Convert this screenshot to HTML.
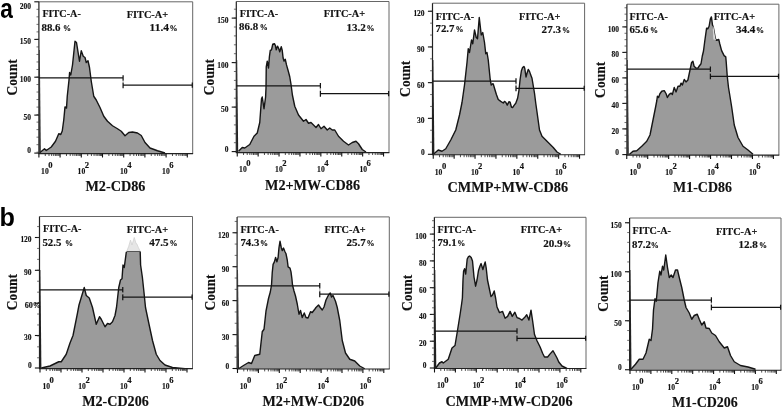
<!DOCTYPE html>
<html><head><meta charset="utf-8"><title>Flow cytometry</title>
<style>
html,body{margin:0;padding:0;background:#fff;}
body{width:784px;height:411px;overflow:hidden;}
svg{display:block;}
svg text{font-family:"Liberation Serif", "DejaVu Serif", serif;font-weight:bold;fill:#111;stroke:#111;stroke-width:0.15px;}
svg text.lab{font-family:"Liberation Sans","DejaVu Sans",sans-serif;font-weight:bold;fill:#000;stroke:none;}
</style></head><body>
<svg width="784" height="411" viewBox="0 0 784 411">
<rect width="784" height="411" fill="#fff"/>
<g id="panel1">
<polygon points="40,153.6 40,152.5 44.5,148.75 46.25,150.5 51.25,147 55.5,141.25 58.75,133.75 60.75,134.5 62.25,131 63.75,120 65,106.9 66.5,108.1 67.25,96.25 69,80 69.6,72.5 70.75,75 72.5,65 75,41.25 76.5,42.5 79.5,61.25 81.25,50.75 83.25,56.25 85,57.5 86.25,62.5 88,60.75 89.5,67.5 91.25,81.25 93.75,96.25 96.25,100 100,107.5 103.75,116.25 107.5,121.25 112.5,125.75 117.5,128.75 121.25,131.25 125,135.75 128.75,132.5 132.5,132 137.5,133 141.25,135.5 145,142.5 150,148 157.5,150.75 165,153 165,153.6" fill="#9b9b9b" stroke="none"/>
<polyline points="40,152.5 44.5,148.75 46.25,150.5 51.25,147 55.5,141.25 58.75,133.75 60.75,134.5 62.25,131 63.75,120 65,106.9 66.5,108.1 67.25,96.25 69,80 69.6,72.5 70.75,75 72.5,65 75,41.25 76.5,42.5 79.5,61.25 81.25,50.75 83.25,56.25 85,57.5 86.25,62.5 88,60.75 89.5,67.5 91.25,81.25 93.75,96.25 96.25,100 100,107.5 103.75,116.25 107.5,121.25 112.5,125.75 117.5,128.75 121.25,131.25 125,135.75 128.75,132.5 132.5,132 137.5,133 141.25,135.5 145,142.5 150,148 157.5,150.75 165,153" fill="none" stroke="#151515" stroke-width="1.4" stroke-linejoin="round"/>
<polygon points="39.2,50 39.8,50 40.8,153.6 39.2,153.6" fill="#222"/>
<path d="M38.9,1.8 H192.7 V153.6" fill="none" stroke="#666" stroke-width="1"/>
<path d="M38.9,1.8 V153.6" fill="none" stroke="#222" stroke-width="1.2"/>
<path d="M38.4,153.6 H193.1" fill="none" stroke="#222" stroke-width="1.1"/>
<line x1="34.3" y1="1.8" x2="38.9" y2="1.8" stroke="#111" stroke-width="1.1"/>
<text x="31" y="9" font-size="8.4" text-anchor="end" textLength="11.2" lengthAdjust="spacingAndGlyphs" stroke="#111" stroke-width="0.4">200</text>
<line x1="34.3" y1="39.4" x2="38.9" y2="39.4" stroke="#111" stroke-width="1.1"/>
<text x="31" y="44.3" font-size="8.4" text-anchor="end" textLength="11.2" lengthAdjust="spacingAndGlyphs" stroke="#111" stroke-width="0.4">150</text>
<line x1="34.3" y1="77.2" x2="38.9" y2="77.2" stroke="#111" stroke-width="1.1"/>
<text x="31" y="82.1" font-size="8.4" text-anchor="end" textLength="11.2" lengthAdjust="spacingAndGlyphs" stroke="#111" stroke-width="0.4">100</text>
<line x1="34.3" y1="115.1" x2="38.9" y2="115.1" stroke="#111" stroke-width="1.1"/>
<text x="31" y="120" font-size="8.4" text-anchor="end" textLength="7.5" lengthAdjust="spacingAndGlyphs" stroke="#111" stroke-width="0.4">50</text>
<line x1="34.3" y1="153.1" x2="38.9" y2="153.1" stroke="#111" stroke-width="1.1"/>
<text x="31" y="153.3" font-size="8.4" text-anchor="end" textLength="3.7" lengthAdjust="spacingAndGlyphs" stroke="#111" stroke-width="0.4">0</text>
<path d="M36.5,9.32 h2.4 M36.5,16.84 h2.4 M36.5,24.36 h2.4 M36.5,31.88 h2.4 M36.5,39.4 h2.4 M36.5,46.92 h2.4 M36.5,54.44 h2.4 M36.5,61.96 h2.4 M36.5,69.48 h2.4 M36.5,77 h2.4 M36.5,84.52 h2.4 M36.5,92.04 h2.4 M36.5,99.56 h2.4 M36.5,107.08 h2.4 M36.5,114.6 h2.4 M36.5,122.12 h2.4 M36.5,129.64 h2.4 M36.5,137.16 h2.4 M36.5,144.68 h2.4 M36.5,152.2 h2.4" stroke="#333" stroke-width="0.7" fill="none"/>
<path d="M38.9,153.6 v3.9 M60.1,153.6 v3.9 M81.3,153.6 v3.9 M102.5,153.6 v3.9 M123.7,153.6 v3.9 M144.9,153.6 v3.9 M166.1,153.6 v3.9 M187.3,153.6 v3.9" stroke="#111" stroke-width="1.1" fill="none"/>
<path d="M45.28,153.6 v2.4 M49.01,153.6 v2.4 M51.66,153.6 v2.4 M53.72,153.6 v2.4 M55.4,153.6 v2.4 M56.82,153.6 v2.4 M58.05,153.6 v2.4 M59.13,153.6 v2.4 M66.48,153.6 v2.4 M70.21,153.6 v2.4 M72.86,153.6 v2.4 M74.92,153.6 v2.4 M76.6,153.6 v2.4 M78.02,153.6 v2.4 M79.25,153.6 v2.4 M80.33,153.6 v2.4 M87.68,153.6 v2.4 M91.41,153.6 v2.4 M94.06,153.6 v2.4 M96.12,153.6 v2.4 M97.8,153.6 v2.4 M99.22,153.6 v2.4 M100.45,153.6 v2.4 M101.53,153.6 v2.4 M108.88,153.6 v2.4 M112.61,153.6 v2.4 M115.26,153.6 v2.4 M117.32,153.6 v2.4 M119,153.6 v2.4 M120.42,153.6 v2.4 M121.65,153.6 v2.4 M122.73,153.6 v2.4 M130.08,153.6 v2.4 M133.81,153.6 v2.4 M136.46,153.6 v2.4 M138.52,153.6 v2.4 M140.2,153.6 v2.4 M141.62,153.6 v2.4 M142.85,153.6 v2.4 M143.93,153.6 v2.4 M151.28,153.6 v2.4 M155.01,153.6 v2.4 M157.66,153.6 v2.4 M159.72,153.6 v2.4 M161.4,153.6 v2.4 M162.82,153.6 v2.4 M164.05,153.6 v2.4 M165.13,153.6 v2.4 M172.48,153.6 v2.4 M176.21,153.6 v2.4 M178.86,153.6 v2.4 M180.92,153.6 v2.4 M182.6,153.6 v2.4 M184.02,153.6 v2.4 M185.25,153.6 v2.4 M186.33,153.6 v2.4" stroke="#222" stroke-width="0.8" fill="none"/>
<text x="41.1" y="173.6" font-size="9" textLength="7.6" lengthAdjust="spacingAndGlyphs" stroke="#111" stroke-width="0.4">10</text>
<text x="48.3" y="168.1" font-size="8.6" textLength="4.3" lengthAdjust="spacingAndGlyphs" stroke="#111" stroke-width="0.4">0</text>
<text x="77.6" y="173.6" font-size="9" textLength="7.6" lengthAdjust="spacingAndGlyphs" stroke="#111" stroke-width="0.4">10</text>
<text x="84.8" y="168.1" font-size="8.6" textLength="4.3" lengthAdjust="spacingAndGlyphs" stroke="#111" stroke-width="0.4">2</text>
<text x="120" y="173.6" font-size="9" textLength="7.6" lengthAdjust="spacingAndGlyphs" stroke="#111" stroke-width="0.4">10</text>
<text x="127.2" y="168.1" font-size="8.6" textLength="4.3" lengthAdjust="spacingAndGlyphs" stroke="#111" stroke-width="0.4">4</text>
<text x="162.1" y="173.6" font-size="9" textLength="7.6" lengthAdjust="spacingAndGlyphs" stroke="#111" stroke-width="0.4">10</text>
<text x="169.3" y="168.1" font-size="8.6" textLength="4.3" lengthAdjust="spacingAndGlyphs" stroke="#111" stroke-width="0.4">6</text>
<text x="85.4" y="191.3" font-size="14.2" text-anchor="start" textLength="60" lengthAdjust="spacingAndGlyphs">M2-CD86</text>
<path d="M38.9,77.9 H123.1 M123.1,75.2 V80.7 M123.1,82.4 V88.3 M123.1,85.2 H192.7 M192.3,82.6 v5.2" fill="none" stroke="#141414" stroke-width="1.25"/>
<path d="M123.1,80.7 V82.4" fill="none" stroke="#999" stroke-width="0.8"/>
<text x="42.4" y="17.2" font-size="10" text-anchor="start" textLength="38.4" lengthAdjust="spacingAndGlyphs">FITC-A-</text>
<text x="41.5" y="30.8" font-size="10" text-anchor="start" textLength="19" lengthAdjust="spacingAndGlyphs">88.6</text>
<text x="63" y="30.8" font-size="8.4" text-anchor="start" textLength="8" lengthAdjust="spacingAndGlyphs" stroke="#111" stroke-width="0.4">%</text>
<text x="126.75" y="17.5" font-size="10" text-anchor="start" textLength="41.3" lengthAdjust="spacingAndGlyphs">FITC-A+</text>
<text x="149.6" y="30.8" font-size="10" text-anchor="start" textLength="19.4" lengthAdjust="spacingAndGlyphs">11.4</text>
<text x="169.6" y="30.8" font-size="8.4" text-anchor="start" textLength="8" lengthAdjust="spacingAndGlyphs" stroke="#111" stroke-width="0.4">%</text>
<text transform="translate(16.8,95.5) rotate(-90)" font-size="14.5" textLength="36.2" lengthAdjust="spacingAndGlyphs" stroke-width="0.3">Count</text>
</g>
<g id="panel2">
<polygon points="238.5,152.6 238.5,151.25 242.25,147.5 244.75,148 249.75,144.5 254,136.25 257.25,133 259.75,122.5 261.5,98.75 262.25,97 264,108.75 265.6,97 266,88 266.25,66.75 267.25,61.1 268.5,68 269.4,56.75 270.25,50.5 271.5,49.9 272.75,44.25 274.4,43.6 275.4,45.5 276.25,49.9 277.5,46.1 278.5,48 279.75,51.75 281.25,46.75 282.25,50.5 283.1,58 284,61.1 285.25,59.25 286.5,64.9 288.1,70.5 289.75,76.75 291,84.25 291.5,88 292.4,95 294.75,106.25 298.5,115 303.5,121.25 306,119.5 308.5,123.25 311,122.5 316,127.5 318.5,124.5 321,128.75 324,126.25 327.25,130 329.75,128 332.25,130 334.75,130 338.5,136.25 343.5,141.25 348.5,145 352.25,142.5 356,141.25 358.5,143.75 362.25,149.5 366,152 366,152.6" fill="#9b9b9b" stroke="none"/>
<polyline points="238.5,151.25 242.25,147.5 244.75,148 249.75,144.5 254,136.25 257.25,133 259.75,122.5 261.5,98.75 262.25,97 264,108.75 265.6,97 266,88 266.25,66.75 267.25,61.1 268.5,68 269.4,56.75 270.25,50.5 271.5,49.9 272.75,44.25 274.4,43.6 275.4,45.5 276.25,49.9 277.5,46.1 278.5,48 279.75,51.75 281.25,46.75 282.25,50.5 283.1,58 284,61.1 285.25,59.25 286.5,64.9 288.1,70.5 289.75,76.75 291,84.25 291.5,88 292.4,95 294.75,106.25 298.5,115 303.5,121.25 306,119.5 308.5,123.25 311,122.5 316,127.5 318.5,124.5 321,128.75 324,126.25 327.25,130 329.75,128 332.25,130 334.75,130 338.5,136.25 343.5,141.25 348.5,145 352.25,142.5 356,141.25 358.5,143.75 362.25,149.5 366,152" fill="none" stroke="#151515" stroke-width="1.4" stroke-linejoin="round"/>
<polygon points="236.6,60 237.2,60 238.2,152.6 236.6,152.6" fill="#222"/>
<path d="M236.3,1.5 H389 V152.6" fill="none" stroke="#666" stroke-width="1"/>
<path d="M236.3,1.5 V152.6" fill="none" stroke="#222" stroke-width="1.2"/>
<path d="M235.8,152.6 H389.4" fill="none" stroke="#222" stroke-width="1.1"/>
<line x1="231.7" y1="18.1" x2="236.3" y2="18.1" stroke="#111" stroke-width="1.1"/>
<text x="228.4" y="23" font-size="8.4" text-anchor="end" textLength="11.2" lengthAdjust="spacingAndGlyphs" stroke="#111" stroke-width="0.4">150</text>
<line x1="231.7" y1="62.6" x2="236.3" y2="62.6" stroke="#111" stroke-width="1.1"/>
<text x="228.4" y="67.5" font-size="8.4" text-anchor="end" textLength="11.2" lengthAdjust="spacingAndGlyphs" stroke="#111" stroke-width="0.4">100</text>
<line x1="231.7" y1="107.1" x2="236.3" y2="107.1" stroke="#111" stroke-width="1.1"/>
<text x="228.4" y="112" font-size="8.4" text-anchor="end" textLength="7.5" lengthAdjust="spacingAndGlyphs" stroke="#111" stroke-width="0.4">50</text>
<line x1="231.7" y1="151.6" x2="236.3" y2="151.6" stroke="#111" stroke-width="1.1"/>
<text x="228.4" y="152" font-size="8.4" text-anchor="end" textLength="3.7" lengthAdjust="spacingAndGlyphs" stroke="#111" stroke-width="0.4">0</text>
<path d="M233.9,9.2 h2.4 M233.9,18.1 h2.4 M233.9,27 h2.4 M233.9,35.9 h2.4 M233.9,44.8 h2.4 M233.9,53.7 h2.4 M233.9,62.6 h2.4 M233.9,71.5 h2.4 M233.9,80.4 h2.4 M233.9,89.3 h2.4 M233.9,98.2 h2.4 M233.9,107.1 h2.4 M233.9,116 h2.4 M233.9,124.9 h2.4 M233.9,133.8 h2.4 M233.9,142.7 h2.4" stroke="#333" stroke-width="0.7" fill="none"/>
<path d="M237.25,152.6 v3.9 M258.15,152.6 v3.9 M279.05,152.6 v3.9 M299.95,152.6 v3.9 M320.85,152.6 v3.9 M341.75,152.6 v3.9 M362.65,152.6 v3.9 M383.55,152.6 v3.9" stroke="#111" stroke-width="1.1" fill="none"/>
<path d="M243.54,152.6 v2.4 M247.22,152.6 v2.4 M249.83,152.6 v2.4 M251.86,152.6 v2.4 M253.51,152.6 v2.4 M254.91,152.6 v2.4 M256.12,152.6 v2.4 M257.19,152.6 v2.4 M264.44,152.6 v2.4 M268.12,152.6 v2.4 M270.73,152.6 v2.4 M272.76,152.6 v2.4 M274.41,152.6 v2.4 M275.81,152.6 v2.4 M277.02,152.6 v2.4 M278.09,152.6 v2.4 M285.34,152.6 v2.4 M289.02,152.6 v2.4 M291.63,152.6 v2.4 M293.66,152.6 v2.4 M295.31,152.6 v2.4 M296.71,152.6 v2.4 M297.92,152.6 v2.4 M298.99,152.6 v2.4 M306.24,152.6 v2.4 M309.92,152.6 v2.4 M312.53,152.6 v2.4 M314.56,152.6 v2.4 M316.21,152.6 v2.4 M317.61,152.6 v2.4 M318.82,152.6 v2.4 M319.89,152.6 v2.4 M327.14,152.6 v2.4 M330.82,152.6 v2.4 M333.43,152.6 v2.4 M335.46,152.6 v2.4 M337.11,152.6 v2.4 M338.51,152.6 v2.4 M339.72,152.6 v2.4 M340.79,152.6 v2.4 M348.04,152.6 v2.4 M351.72,152.6 v2.4 M354.33,152.6 v2.4 M356.36,152.6 v2.4 M358.01,152.6 v2.4 M359.41,152.6 v2.4 M360.62,152.6 v2.4 M361.69,152.6 v2.4 M368.94,152.6 v2.4 M372.62,152.6 v2.4 M375.23,152.6 v2.4 M377.26,152.6 v2.4 M378.91,152.6 v2.4 M380.31,152.6 v2.4 M381.52,152.6 v2.4 M382.59,152.6 v2.4" stroke="#222" stroke-width="0.8" fill="none"/>
<text x="239.1" y="171.5" font-size="9" textLength="7.6" lengthAdjust="spacingAndGlyphs" stroke="#111" stroke-width="0.4">10</text>
<text x="246.3" y="166" font-size="8.6" textLength="4.3" lengthAdjust="spacingAndGlyphs" stroke="#111" stroke-width="0.4">0</text>
<text x="275.1" y="171.5" font-size="9" textLength="7.6" lengthAdjust="spacingAndGlyphs" stroke="#111" stroke-width="0.4">10</text>
<text x="282.3" y="166" font-size="8.6" textLength="4.3" lengthAdjust="spacingAndGlyphs" stroke="#111" stroke-width="0.4">2</text>
<text x="317.1" y="171.5" font-size="9" textLength="7.6" lengthAdjust="spacingAndGlyphs" stroke="#111" stroke-width="0.4">10</text>
<text x="324.3" y="166" font-size="8.6" textLength="4.3" lengthAdjust="spacingAndGlyphs" stroke="#111" stroke-width="0.4">4</text>
<text x="359.4" y="171.5" font-size="9" textLength="7.6" lengthAdjust="spacingAndGlyphs" stroke="#111" stroke-width="0.4">10</text>
<text x="366.6" y="166" font-size="8.6" textLength="4.3" lengthAdjust="spacingAndGlyphs" stroke="#111" stroke-width="0.4">6</text>
<text x="265.1" y="189.5" font-size="14.2" text-anchor="start" textLength="94.9" lengthAdjust="spacingAndGlyphs">M2+MW-CD86</text>
<path d="M236.3,85.75 H320.4 M320.4,83.05 V88.55 M320.4,90.8 V96.7 M320.4,93.6 H389 M388.6,91 v5.2" fill="none" stroke="#141414" stroke-width="1.25"/>
<path d="M320.4,88.55 V90.8" fill="none" stroke="#999" stroke-width="0.8"/>
<text x="239.75" y="17.2" font-size="10" text-anchor="start" textLength="38.4" lengthAdjust="spacingAndGlyphs">FITC-A-</text>
<text x="239.1" y="30.3" font-size="10" text-anchor="start" textLength="19" lengthAdjust="spacingAndGlyphs">86.8</text>
<text x="259.75" y="30.3" font-size="8.4" text-anchor="start" textLength="8" lengthAdjust="spacingAndGlyphs" stroke="#111" stroke-width="0.4">%</text>
<text x="323.75" y="17.2" font-size="10" text-anchor="start" textLength="41.3" lengthAdjust="spacingAndGlyphs">FITC-A+</text>
<text x="346.5" y="30.5" font-size="10" text-anchor="start" textLength="19.4" lengthAdjust="spacingAndGlyphs">13.2</text>
<text x="366.5" y="30.5" font-size="8.4" text-anchor="start" textLength="8" lengthAdjust="spacingAndGlyphs" stroke="#111" stroke-width="0.4">%</text>
<text transform="translate(214.2,95.2) rotate(-90)" font-size="14.5" textLength="36.2" lengthAdjust="spacingAndGlyphs" stroke-width="0.3">Count</text>
</g>
<g id="panel3">
<polygon points="434,154.8 434,153.75 438.25,150 442,151.25 445.75,148.75 450.75,140 455.75,130 459.5,115 462,102.5 464.5,85 467,62.5 468.25,48.75 469.5,52.5 471.5,40 472.75,43.75 474.5,30 476.25,37.5 477.5,38.75 479.25,17.5 481.25,35 482.75,32.5 484.5,42.5 485.75,53.75 487,52.5 488.25,60 490.25,80 491.25,85 492.75,83.75 493.25,83.9 494.5,88.25 496.4,94.5 498.25,99.5 500.75,101.4 503.25,103 504.5,101.4 505.75,102.25 507.25,105.1 508.9,101.75 510.1,102.25 511.4,107 512.6,107.6 514.25,105.1 515.75,103.25 517.6,98.25 518.9,90.75 520.1,79.5 521.4,70.75 522.6,67.6 523.9,66.4 524.75,68.25 526,77 527,73.25 528.25,69.5 529.5,71.4 530.75,75.1 532,78.25 533.25,85.75 534.5,93.25 535.75,103.25 537,112 539.5,130 542,136.25 545.75,140 549.5,143.75 553.25,147.5 557,152 560.75,154.25 560.75,154.8" fill="#9b9b9b" stroke="none"/>
<polyline points="434,153.75 438.25,150 442,151.25 445.75,148.75 450.75,140 455.75,130 459.5,115 462,102.5 464.5,85 467,62.5 468.25,48.75 469.5,52.5 471.5,40 472.75,43.75 474.5,30 476.25,37.5 477.5,38.75 479.25,17.5 481.25,35 482.75,32.5 484.5,42.5 485.75,53.75 487,52.5 488.25,60 490.25,80 491.25,85 492.75,83.75 493.25,83.9 494.5,88.25 496.4,94.5 498.25,99.5 500.75,101.4 503.25,103 504.5,101.4 505.75,102.25 507.25,105.1 508.9,101.75 510.1,102.25 511.4,107 512.6,107.6 514.25,105.1 515.75,103.25 517.6,98.25 518.9,90.75 520.1,79.5 521.4,70.75 522.6,67.6 523.9,66.4 524.75,68.25 526,77 527,73.25 528.25,69.5 529.5,71.4 530.75,75.1 532,78.25 533.25,85.75 534.5,93.25 535.75,103.25 537,112 539.5,130 542,136.25 545.75,140 549.5,143.75 553.25,147.5 557,152 560.75,154.25" fill="none" stroke="#151515" stroke-width="1.4" stroke-linejoin="round"/>
<polygon points="432.8,60 433.4,60 434.4,154.8 432.8,154.8" fill="#222"/>
<path d="M432.5,3.2 H584.6 V154.8" fill="none" stroke="#666" stroke-width="1"/>
<path d="M432.5,3.2 V154.8" fill="none" stroke="#222" stroke-width="1.2"/>
<path d="M432,154.8 H585" fill="none" stroke="#222" stroke-width="1.1"/>
<line x1="427.9" y1="11.25" x2="432.5" y2="11.25" stroke="#111" stroke-width="1.1"/>
<text x="424.6" y="16.15" font-size="8.4" text-anchor="end" textLength="11.2" lengthAdjust="spacingAndGlyphs" stroke="#111" stroke-width="0.4">120</text>
<line x1="427.9" y1="46.95" x2="432.5" y2="46.95" stroke="#111" stroke-width="1.1"/>
<text x="424.6" y="51.85" font-size="8.4" text-anchor="end" textLength="7.5" lengthAdjust="spacingAndGlyphs" stroke="#111" stroke-width="0.4">90</text>
<line x1="427.9" y1="82.65" x2="432.5" y2="82.65" stroke="#111" stroke-width="1.1"/>
<text x="424.6" y="87.55" font-size="8.4" text-anchor="end" textLength="7.5" lengthAdjust="spacingAndGlyphs" stroke="#111" stroke-width="0.4">60</text>
<line x1="427.9" y1="118.35" x2="432.5" y2="118.35" stroke="#111" stroke-width="1.1"/>
<text x="424.6" y="123.25" font-size="8.4" text-anchor="end" textLength="7.5" lengthAdjust="spacingAndGlyphs" stroke="#111" stroke-width="0.4">30</text>
<line x1="427.9" y1="154.3" x2="432.5" y2="154.3" stroke="#111" stroke-width="1.1"/>
<text x="424.6" y="154.6" font-size="8.4" text-anchor="end" textLength="3.7" lengthAdjust="spacingAndGlyphs" stroke="#111" stroke-width="0.4">0</text>
<path d="M430.1,11.25 h2.4 M430.1,23.15 h2.4 M430.1,35.05 h2.4 M430.1,46.95 h2.4 M430.1,58.85 h2.4 M430.1,70.75 h2.4 M430.1,82.65 h2.4 M430.1,94.55 h2.4 M430.1,106.45 h2.4 M430.1,118.35 h2.4 M430.1,130.25 h2.4 M430.1,142.15 h2.4" stroke="#333" stroke-width="0.7" fill="none"/>
<path d="M433.25,154.8 v3.9 M454.15,154.8 v3.9 M475.05,154.8 v3.9 M495.95,154.8 v3.9 M516.85,154.8 v3.9 M537.75,154.8 v3.9 M558.65,154.8 v3.9 M579.55,154.8 v3.9" stroke="#111" stroke-width="1.1" fill="none"/>
<path d="M439.54,154.8 v2.4 M443.22,154.8 v2.4 M445.83,154.8 v2.4 M447.86,154.8 v2.4 M449.51,154.8 v2.4 M450.91,154.8 v2.4 M452.12,154.8 v2.4 M453.19,154.8 v2.4 M460.44,154.8 v2.4 M464.12,154.8 v2.4 M466.73,154.8 v2.4 M468.76,154.8 v2.4 M470.41,154.8 v2.4 M471.81,154.8 v2.4 M473.02,154.8 v2.4 M474.09,154.8 v2.4 M481.34,154.8 v2.4 M485.02,154.8 v2.4 M487.63,154.8 v2.4 M489.66,154.8 v2.4 M491.31,154.8 v2.4 M492.71,154.8 v2.4 M493.92,154.8 v2.4 M494.99,154.8 v2.4 M502.24,154.8 v2.4 M505.92,154.8 v2.4 M508.53,154.8 v2.4 M510.56,154.8 v2.4 M512.21,154.8 v2.4 M513.61,154.8 v2.4 M514.82,154.8 v2.4 M515.89,154.8 v2.4 M523.14,154.8 v2.4 M526.82,154.8 v2.4 M529.43,154.8 v2.4 M531.46,154.8 v2.4 M533.11,154.8 v2.4 M534.51,154.8 v2.4 M535.72,154.8 v2.4 M536.79,154.8 v2.4 M544.04,154.8 v2.4 M547.72,154.8 v2.4 M550.33,154.8 v2.4 M552.36,154.8 v2.4 M554.01,154.8 v2.4 M555.41,154.8 v2.4 M556.62,154.8 v2.4 M557.69,154.8 v2.4 M564.94,154.8 v2.4 M568.62,154.8 v2.4 M571.23,154.8 v2.4 M573.26,154.8 v2.4 M574.91,154.8 v2.4 M576.31,154.8 v2.4 M577.52,154.8 v2.4 M578.59,154.8 v2.4" stroke="#222" stroke-width="0.8" fill="none"/>
<text x="434.75" y="174.6" font-size="9" textLength="7.6" lengthAdjust="spacingAndGlyphs" stroke="#111" stroke-width="0.4">10</text>
<text x="441.95" y="169.1" font-size="8.6" textLength="4.3" lengthAdjust="spacingAndGlyphs" stroke="#111" stroke-width="0.4">0</text>
<text x="470.9" y="174.6" font-size="9" textLength="7.6" lengthAdjust="spacingAndGlyphs" stroke="#111" stroke-width="0.4">10</text>
<text x="478.1" y="169.1" font-size="8.6" textLength="4.3" lengthAdjust="spacingAndGlyphs" stroke="#111" stroke-width="0.4">2</text>
<text x="512.5" y="174.6" font-size="9" textLength="7.6" lengthAdjust="spacingAndGlyphs" stroke="#111" stroke-width="0.4">10</text>
<text x="519.7" y="169.1" font-size="8.6" textLength="4.3" lengthAdjust="spacingAndGlyphs" stroke="#111" stroke-width="0.4">4</text>
<text x="555" y="174.6" font-size="9" textLength="7.6" lengthAdjust="spacingAndGlyphs" stroke="#111" stroke-width="0.4">10</text>
<text x="562.2" y="169.1" font-size="8.6" textLength="4.3" lengthAdjust="spacingAndGlyphs" stroke="#111" stroke-width="0.4">6</text>
<text x="447.5" y="192.2" font-size="14.2" text-anchor="start" textLength="120.6" lengthAdjust="spacingAndGlyphs">CMMP+MW-CD86</text>
<path d="M432.5,81 H516 M516,78.3 V83.8 M516,85.45 V91.35 M516,88.25 H584.6 M584.2,85.65 v5.2" fill="none" stroke="#141414" stroke-width="1.25"/>
<path d="M516,83.8 V85.45" fill="none" stroke="#999" stroke-width="0.8"/>
<text x="435.75" y="19.7" font-size="10" text-anchor="start" textLength="38.4" lengthAdjust="spacingAndGlyphs">FITC-A-</text>
<text x="435.5" y="32.2" font-size="10" text-anchor="start" textLength="19" lengthAdjust="spacingAndGlyphs">72.7</text>
<text x="455.5" y="32.2" font-size="8.4" text-anchor="start" textLength="8" lengthAdjust="spacingAndGlyphs" stroke="#111" stroke-width="0.4">%</text>
<text x="519.1" y="19.7" font-size="10" text-anchor="start" textLength="41.3" lengthAdjust="spacingAndGlyphs">FITC-A+</text>
<text x="541.6" y="32.5" font-size="10" text-anchor="start" textLength="19.4" lengthAdjust="spacingAndGlyphs">27.3</text>
<text x="562" y="32.5" font-size="8.4" text-anchor="start" textLength="8" lengthAdjust="spacingAndGlyphs" stroke="#111" stroke-width="0.4">%</text>
<text transform="translate(410.4,96.9) rotate(-90)" font-size="14.5" textLength="36.2" lengthAdjust="spacingAndGlyphs" stroke-width="0.3">Count</text>
</g>
<g id="panel4">
<polygon points="629.25,155.1 629.25,154.5 633,151.25 636.75,150.75 641.75,146.25 646.75,141.25 650,135 653,120 655.5,107.5 656.75,101 657.4,96.25 658.6,97.5 659.9,93.75 661.75,91.25 664.25,90.6 666.1,93.75 667.4,97.5 669.25,94.4 671.1,93.1 672.4,94.4 674.25,87.5 676.1,91.9 678,86.25 679.9,86.25 681.1,83.1 682.4,85 684.25,79.4 686,81.9 687.9,80 689.75,71.25 691.6,62.5 692.9,61.25 694.1,66.25 696,68.1 697.9,68.1 699.1,66.25 701,63.75 702.25,56.25 703.5,51 704.75,41.25 706.6,28.1 707.9,28.75 709.1,26.25 710.4,18.75 711.4,16.9 712.5,25 713.25,26.9 715.4,38.75 716.6,40.25 718.75,39.4 719.75,43.75 721.6,50.6 724.1,55.6 725.75,56.9 726.25,62.5 727.25,76.25 728.5,87.5 729.75,95 731.75,107.5 734.25,125 738,137.5 743,146.25 748,150 753,154.25 753,155.1" fill="#9b9b9b" stroke="none"/>
<polyline points="629.25,154.5 633,151.25 636.75,150.75 641.75,146.25 646.75,141.25 650,135 653,120 655.5,107.5 656.75,101 657.4,96.25 658.6,97.5 659.9,93.75 661.75,91.25 664.25,90.6 666.1,93.75 667.4,97.5 669.25,94.4 671.1,93.1 672.4,94.4 674.25,87.5 676.1,91.9 678,86.25 679.9,86.25 681.1,83.1 682.4,85 684.25,79.4 686,81.9 687.9,80 689.75,71.25 691.6,62.5 692.9,61.25 694.1,66.25 696,68.1 697.9,68.1 699.1,66.25 701,63.75 702.25,56.25 703.5,51 704.75,41.25 706.6,28.1 707.9,28.75 709.1,26.25 710.4,18.75 711.4,16.9 712.5,25 713.25,26.9 715.4,38.75 716.6,40.25 718.75,39.4 719.75,43.75 721.6,50.6 724.1,55.6 725.75,56.9 726.25,62.5 727.25,76.25 728.5,87.5 729.75,95 731.75,107.5 734.25,125 738,137.5 743,146.25 748,150 753,154.25" fill="none" stroke="#151515" stroke-width="1.4" stroke-linejoin="round"/>
<polygon points="712.6,25.5 713.4,39.5 716.4,40 715.4,38.5 713.5,27" fill="#d8d8d8"/>
<polygon points="627.2,60 627.8,60 628.8,155.1 627.2,155.1" fill="#222"/>
<path d="M626.9,4.2 H778.9 V155.1" fill="none" stroke="#666" stroke-width="1"/>
<path d="M626.9,4.2 V155.1" fill="none" stroke="#222" stroke-width="1.2"/>
<path d="M626.4,155.1 H779.3" fill="none" stroke="#222" stroke-width="1.1"/>
<line x1="622.3" y1="26.9" x2="626.9" y2="26.9" stroke="#111" stroke-width="1.1"/>
<text x="619" y="31.8" font-size="8.4" text-anchor="end" textLength="11.2" lengthAdjust="spacingAndGlyphs" stroke="#111" stroke-width="0.4">100</text>
<line x1="622.3" y1="52.4" x2="626.9" y2="52.4" stroke="#111" stroke-width="1.1"/>
<text x="619" y="57.3" font-size="8.4" text-anchor="end" textLength="7.5" lengthAdjust="spacingAndGlyphs" stroke="#111" stroke-width="0.4">80</text>
<line x1="622.3" y1="77.9" x2="626.9" y2="77.9" stroke="#111" stroke-width="1.1"/>
<text x="619" y="82.8" font-size="8.4" text-anchor="end" textLength="7.5" lengthAdjust="spacingAndGlyphs" stroke="#111" stroke-width="0.4">60</text>
<line x1="622.3" y1="103.4" x2="626.9" y2="103.4" stroke="#111" stroke-width="1.1"/>
<text x="619" y="108.3" font-size="8.4" text-anchor="end" textLength="7.5" lengthAdjust="spacingAndGlyphs" stroke="#111" stroke-width="0.4">40</text>
<line x1="622.3" y1="128.9" x2="626.9" y2="128.9" stroke="#111" stroke-width="1.1"/>
<text x="619" y="133.8" font-size="8.4" text-anchor="end" textLength="7.5" lengthAdjust="spacingAndGlyphs" stroke="#111" stroke-width="0.4">20</text>
<line x1="622.3" y1="154.6" x2="626.9" y2="154.6" stroke="#111" stroke-width="1.1"/>
<text x="619" y="154.9" font-size="8.4" text-anchor="end" textLength="3.7" lengthAdjust="spacingAndGlyphs" stroke="#111" stroke-width="0.4">0</text>
<path d="M624.5,7.77 h2.4 M624.5,14.15 h2.4 M624.5,20.52 h2.4 M624.5,26.9 h2.4 M624.5,33.27 h2.4 M624.5,39.65 h2.4 M624.5,46.02 h2.4 M624.5,52.4 h2.4 M624.5,58.77 h2.4 M624.5,65.15 h2.4 M624.5,71.53 h2.4 M624.5,77.9 h2.4 M624.5,84.28 h2.4 M624.5,90.65 h2.4 M624.5,97.03 h2.4 M624.5,103.4 h2.4 M624.5,109.78 h2.4 M624.5,116.15 h2.4 M624.5,122.53 h2.4 M624.5,128.9 h2.4 M624.5,135.28 h2.4 M624.5,141.65 h2.4 M624.5,148.03 h2.4" stroke="#333" stroke-width="0.7" fill="none"/>
<path d="M626.75,155.1 v3.9 M647.7,155.1 v3.9 M668.65,155.1 v3.9 M689.6,155.1 v3.9 M710.55,155.1 v3.9 M731.5,155.1 v3.9 M752.45,155.1 v3.9 M773.4,155.1 v3.9" stroke="#111" stroke-width="1.1" fill="none"/>
<path d="M633.06,155.1 v2.4 M636.75,155.1 v2.4 M639.36,155.1 v2.4 M641.39,155.1 v2.4 M643.05,155.1 v2.4 M644.45,155.1 v2.4 M645.67,155.1 v2.4 M646.74,155.1 v2.4 M654.01,155.1 v2.4 M657.7,155.1 v2.4 M660.31,155.1 v2.4 M662.34,155.1 v2.4 M664,155.1 v2.4 M665.4,155.1 v2.4 M666.62,155.1 v2.4 M667.69,155.1 v2.4 M674.96,155.1 v2.4 M678.65,155.1 v2.4 M681.26,155.1 v2.4 M683.29,155.1 v2.4 M684.95,155.1 v2.4 M686.35,155.1 v2.4 M687.57,155.1 v2.4 M688.64,155.1 v2.4 M695.91,155.1 v2.4 M699.6,155.1 v2.4 M702.21,155.1 v2.4 M704.24,155.1 v2.4 M705.9,155.1 v2.4 M707.3,155.1 v2.4 M708.52,155.1 v2.4 M709.59,155.1 v2.4 M716.86,155.1 v2.4 M720.55,155.1 v2.4 M723.16,155.1 v2.4 M725.19,155.1 v2.4 M726.85,155.1 v2.4 M728.25,155.1 v2.4 M729.47,155.1 v2.4 M730.54,155.1 v2.4 M737.81,155.1 v2.4 M741.5,155.1 v2.4 M744.11,155.1 v2.4 M746.14,155.1 v2.4 M747.8,155.1 v2.4 M749.2,155.1 v2.4 M750.42,155.1 v2.4 M751.49,155.1 v2.4 M758.76,155.1 v2.4 M762.45,155.1 v2.4 M765.06,155.1 v2.4 M767.09,155.1 v2.4 M768.75,155.1 v2.4 M770.15,155.1 v2.4 M771.37,155.1 v2.4 M772.44,155.1 v2.4" stroke="#222" stroke-width="0.8" fill="none"/>
<text x="629.5" y="174.9" font-size="9" textLength="7.6" lengthAdjust="spacingAndGlyphs" stroke="#111" stroke-width="0.4">10</text>
<text x="636.7" y="169.4" font-size="8.6" textLength="4.3" lengthAdjust="spacingAndGlyphs" stroke="#111" stroke-width="0.4">0</text>
<text x="665.2" y="174.9" font-size="9" textLength="7.6" lengthAdjust="spacingAndGlyphs" stroke="#111" stroke-width="0.4">10</text>
<text x="672.4" y="169.4" font-size="8.6" textLength="4.3" lengthAdjust="spacingAndGlyphs" stroke="#111" stroke-width="0.4">2</text>
<text x="707.25" y="174.9" font-size="9" textLength="7.6" lengthAdjust="spacingAndGlyphs" stroke="#111" stroke-width="0.4">10</text>
<text x="714.45" y="169.4" font-size="8.6" textLength="4.3" lengthAdjust="spacingAndGlyphs" stroke="#111" stroke-width="0.4">4</text>
<text x="749" y="174.9" font-size="9" textLength="7.6" lengthAdjust="spacingAndGlyphs" stroke="#111" stroke-width="0.4">10</text>
<text x="756.2" y="169.4" font-size="8.6" textLength="4.3" lengthAdjust="spacingAndGlyphs" stroke="#111" stroke-width="0.4">6</text>
<text x="673.1" y="192.4" font-size="14.2" text-anchor="start" textLength="58.8" lengthAdjust="spacingAndGlyphs">M1-CD86</text>
<path d="M626.9,69.1 H710.4 M710.4,66.4 V71.9 M710.4,73.45 V79.35 M710.4,76.25 H778.9 M778.5,73.65 v5.2" fill="none" stroke="#141414" stroke-width="1.25"/>
<path d="M710.4,71.9 V73.45" fill="none" stroke="#999" stroke-width="0.8"/>
<text x="629.5" y="20.05" font-size="10" text-anchor="start" textLength="38.4" lengthAdjust="spacingAndGlyphs">FITC-A-</text>
<text x="629.5" y="32.8" font-size="10" text-anchor="start" textLength="19" lengthAdjust="spacingAndGlyphs">65.6</text>
<text x="650.1" y="32.8" font-size="8.4" text-anchor="start" textLength="8" lengthAdjust="spacingAndGlyphs" stroke="#111" stroke-width="0.4">%</text>
<text x="713.75" y="20.05" font-size="10" text-anchor="start" textLength="41.3" lengthAdjust="spacingAndGlyphs">FITC-A+</text>
<text x="736" y="33" font-size="10" text-anchor="start" textLength="19.4" lengthAdjust="spacingAndGlyphs">34.4</text>
<text x="756" y="33" font-size="8.4" text-anchor="start" textLength="8" lengthAdjust="spacingAndGlyphs" stroke="#111" stroke-width="0.4">%</text>
<text transform="translate(604.8,97.9) rotate(-90)" font-size="14.5" textLength="36.2" lengthAdjust="spacingAndGlyphs" stroke-width="0.3">Count</text>
</g>
<g id="panel5">
<polygon points="41.25,368.6 41.25,368 50,366 58.75,361.75 61.25,361.75 66.25,354.25 70,343 73,335.5 75,325.5 77.5,313 79,305 81.25,297.5 84.25,287.5 86.25,295.5 89.25,298 92.5,307.5 96.25,324.25 99.5,316.75 101.25,319.25 105,326.75 107.5,323.5 110,324.25 112.5,321.75 115,315.5 116.5,307.5 118.75,287.5 120.5,280 122,278.75 123,265 124.25,267.5 126.25,252.5 128.75,246.25 130.5,240 132,245 134.25,237.5 135.9,243.1 136.75,243.75 138.4,247.5 140.2,251.3 140.6,265 142.4,277.5 144,292.5 145.5,307.5 148.75,323 152.5,340.5 156.25,354.25 160,360.5 165,365 172.5,367.5 185,368.75 185,368.6" fill="#9b9b9b" stroke="none"/>
<polyline points="41.25,368 50,366 58.75,361.75 61.25,361.75 66.25,354.25 70,343 73,335.5 75,325.5 77.5,313 79,305 81.25,297.5 84.25,287.5 86.25,295.5 89.25,298 92.5,307.5 96.25,324.25 99.5,316.75 101.25,319.25 105,326.75 107.5,323.5 110,324.25 112.5,321.75 115,315.5 116.5,307.5 118.75,287.5 120.5,280 122,278.75 123,265 124.25,267.5 126.25,252.5 128.75,246.25 130.5,240 132,245 134.25,237.5 135.9,243.1 136.75,243.75 138.4,247.5 140.2,251.3 140.6,265 142.4,277.5 144,292.5 145.5,307.5 148.75,323 152.5,340.5 156.25,354.25 160,360.5 165,365 172.5,367.5 185,368.75" fill="none" stroke="#151515" stroke-width="1.4" stroke-linejoin="round"/>
<clipPath id="cp5"><rect x="124.75" y="216.5" width="17.75" height="35"/></clipPath>
<rect x="124.75" y="228.5" width="17.75" height="23" fill="#fff"/>
<polygon points="41.25,368.6 41.25,368 50,366 58.75,361.75 61.25,361.75 66.25,354.25 70,343 73,335.5 75,325.5 77.5,313 79,305 81.25,297.5 84.25,287.5 86.25,295.5 89.25,298 92.5,307.5 96.25,324.25 99.5,316.75 101.25,319.25 105,326.75 107.5,323.5 110,324.25 112.5,321.75 115,315.5 116.5,307.5 118.75,287.5 120.5,280 122,278.75 123,265 124.25,267.5 126.25,252.5 128.75,246.25 130.5,240 132,245 134.25,237.5 135.9,243.1 136.75,243.75 138.4,247.5 140.2,251.3 140.6,265 142.4,277.5 144,292.5 145.5,307.5 148.75,323 152.5,340.5 156.25,354.25 160,360.5 165,365 172.5,367.5 185,368.75 185,368.6" fill="#e6e6e6" stroke="#d2d2d2" stroke-width="0.8" clip-path="url(#cp5)"/>
<line x1="126.75" y1="251.5" x2="140.5" y2="251.5" stroke="#555" stroke-width="1"/>
<polygon points="39.8,270 40.4,270 41.4,368.6 39.8,368.6" fill="#222"/>
<path d="M39.5,216.5 H192.5 V368.6" fill="none" stroke="#666" stroke-width="1"/>
<path d="M39.5,216.5 V368.6" fill="none" stroke="#222" stroke-width="1.2"/>
<path d="M39,368.6 H192.9" fill="none" stroke="#222" stroke-width="1.1"/>
<line x1="34.9" y1="237.5" x2="39.5" y2="237.5" stroke="#111" stroke-width="1.1"/>
<text x="31.6" y="242.4" font-size="8.4" text-anchor="end" textLength="11.2" lengthAdjust="spacingAndGlyphs" stroke="#111" stroke-width="0.4">120</text>
<line x1="34.9" y1="270.3" x2="39.5" y2="270.3" stroke="#111" stroke-width="1.1"/>
<text x="31.6" y="275.2" font-size="8.4" text-anchor="end" textLength="7.5" lengthAdjust="spacingAndGlyphs" stroke="#111" stroke-width="0.4">90</text>
<line x1="34.9" y1="303.2" x2="39.5" y2="303.2" stroke="#111" stroke-width="1.1"/>
<text x="41" y="307.7" font-size="8.4" text-anchor="end" textLength="16.3" lengthAdjust="spacingAndGlyphs" stroke="#111" stroke-width="0.4">60%</text>
<line x1="34.9" y1="335.5" x2="39.5" y2="335.5" stroke="#111" stroke-width="1.1"/>
<text x="31.6" y="340.4" font-size="8.4" text-anchor="end" textLength="7.5" lengthAdjust="spacingAndGlyphs" stroke="#111" stroke-width="0.4">30</text>
<line x1="34.9" y1="368" x2="39.5" y2="368" stroke="#111" stroke-width="1.1"/>
<text x="31.6" y="368.4" font-size="8.4" text-anchor="end" textLength="3.7" lengthAdjust="spacingAndGlyphs" stroke="#111" stroke-width="0.4">0</text>
<path d="M37.1,226.57 h2.4 M37.1,237.5 h2.4 M37.1,248.43 h2.4 M37.1,259.37 h2.4 M37.1,270.3 h2.4 M37.1,281.23 h2.4 M37.1,292.17 h2.4 M37.1,303.1 h2.4 M37.1,314.03 h2.4 M37.1,324.97 h2.4 M37.1,335.9 h2.4 M37.1,346.83 h2.4 M37.1,357.77 h2.4" stroke="#333" stroke-width="0.7" fill="none"/>
<path d="M40,368.6 v3.9 M61,368.6 v3.9 M82,368.6 v3.9 M103,368.6 v3.9 M124,368.6 v3.9 M145,368.6 v3.9 M166,368.6 v3.9 M187,368.6 v3.9" stroke="#111" stroke-width="1.1" fill="none"/>
<path d="M46.32,368.6 v2.4 M50.02,368.6 v2.4 M52.64,368.6 v2.4 M54.68,368.6 v2.4 M56.34,368.6 v2.4 M57.75,368.6 v2.4 M58.96,368.6 v2.4 M60.04,368.6 v2.4 M67.32,368.6 v2.4 M71.02,368.6 v2.4 M73.64,368.6 v2.4 M75.68,368.6 v2.4 M77.34,368.6 v2.4 M78.75,368.6 v2.4 M79.96,368.6 v2.4 M81.04,368.6 v2.4 M88.32,368.6 v2.4 M92.02,368.6 v2.4 M94.64,368.6 v2.4 M96.68,368.6 v2.4 M98.34,368.6 v2.4 M99.75,368.6 v2.4 M100.96,368.6 v2.4 M102.04,368.6 v2.4 M109.32,368.6 v2.4 M113.02,368.6 v2.4 M115.64,368.6 v2.4 M117.68,368.6 v2.4 M119.34,368.6 v2.4 M120.75,368.6 v2.4 M121.96,368.6 v2.4 M123.04,368.6 v2.4 M130.32,368.6 v2.4 M134.02,368.6 v2.4 M136.64,368.6 v2.4 M138.68,368.6 v2.4 M140.34,368.6 v2.4 M141.75,368.6 v2.4 M142.96,368.6 v2.4 M144.04,368.6 v2.4 M151.32,368.6 v2.4 M155.02,368.6 v2.4 M157.64,368.6 v2.4 M159.68,368.6 v2.4 M161.34,368.6 v2.4 M162.75,368.6 v2.4 M163.96,368.6 v2.4 M165.04,368.6 v2.4 M172.32,368.6 v2.4 M176.02,368.6 v2.4 M178.64,368.6 v2.4 M180.68,368.6 v2.4 M182.34,368.6 v2.4 M183.75,368.6 v2.4 M184.96,368.6 v2.4 M186.04,368.6 v2.4" stroke="#222" stroke-width="0.8" fill="none"/>
<text x="42.4" y="388.6" font-size="9" textLength="7.6" lengthAdjust="spacingAndGlyphs" stroke="#111" stroke-width="0.4">10</text>
<text x="49.6" y="383.1" font-size="8.6" textLength="4.3" lengthAdjust="spacingAndGlyphs" stroke="#111" stroke-width="0.4">0</text>
<text x="78.3" y="388.6" font-size="9" textLength="7.6" lengthAdjust="spacingAndGlyphs" stroke="#111" stroke-width="0.4">10</text>
<text x="85.5" y="383.1" font-size="8.6" textLength="4.3" lengthAdjust="spacingAndGlyphs" stroke="#111" stroke-width="0.4">2</text>
<text x="120" y="388.6" font-size="9" textLength="7.6" lengthAdjust="spacingAndGlyphs" stroke="#111" stroke-width="0.4">10</text>
<text x="127.2" y="383.1" font-size="8.6" textLength="4.3" lengthAdjust="spacingAndGlyphs" stroke="#111" stroke-width="0.4">4</text>
<text x="162" y="388.6" font-size="9" textLength="7.6" lengthAdjust="spacingAndGlyphs" stroke="#111" stroke-width="0.4">10</text>
<text x="169.2" y="383.1" font-size="8.6" textLength="4.3" lengthAdjust="spacingAndGlyphs" stroke="#111" stroke-width="0.4">6</text>
<text x="82.25" y="406.4" font-size="14.2" text-anchor="start" textLength="66.5" lengthAdjust="spacingAndGlyphs">M2-CD206</text>
<path d="M39.5,289.75 H122.75 M122.75,287.05 V292.55 M122.75,294.3 V300.2 M122.75,297.1 H192.5 M192.1,294.5 v5.2" fill="none" stroke="#141414" stroke-width="1.25"/>
<path d="M122.75,292.55 V294.3" fill="none" stroke="#999" stroke-width="0.8"/>
<text x="43" y="232.2" font-size="10" text-anchor="start" textLength="38.4" lengthAdjust="spacingAndGlyphs">FITC-A-</text>
<text x="42.4" y="245.55" font-size="10" text-anchor="start" textLength="19" lengthAdjust="spacingAndGlyphs">52.5</text>
<text x="64.9" y="245.55" font-size="8.4" text-anchor="start" textLength="8" lengthAdjust="spacingAndGlyphs" stroke="#111" stroke-width="0.4">%</text>
<text x="126.75" y="232.5" font-size="10" text-anchor="start" textLength="41.3" lengthAdjust="spacingAndGlyphs">FITC-A+</text>
<text x="149.25" y="245.9" font-size="10" text-anchor="start" textLength="19.4" lengthAdjust="spacingAndGlyphs">47.5</text>
<text x="169.6" y="245.9" font-size="8.4" text-anchor="start" textLength="8" lengthAdjust="spacingAndGlyphs" stroke="#111" stroke-width="0.4">%</text>
<text transform="translate(17.4,310.2) rotate(-90)" font-size="14.5" textLength="36.2" lengthAdjust="spacingAndGlyphs" stroke-width="0.3">Count</text>
</g>
<g id="panel6">
<polygon points="238.5,369 238.5,368.75 243.5,365.5 248.5,362.5 251.5,363.5 254.75,355.5 259.75,354.25 262.25,331.75 264,329.25 266,311 268.5,298.5 270.3,292 271.5,285 272.25,272.5 273.1,264.4 274.4,261.9 275.6,257.5 276.9,261.9 278.1,257.5 279,247.5 280,241.25 281.25,247.5 282.25,250.6 283.5,248.1 284.75,251.25 286,253.75 287.25,260 288.1,266.9 290,268.1 291,271.9 291.9,278.75 292.5,285 294,291 295.5,296 297.25,304 299,314.25 300.5,310.5 302.25,317.5 304.25,313 306,317.5 308,318 310.5,311.75 312.25,312.5 314.75,309.25 316,307.5 318.5,305 320.25,307.5 322.25,310 324,307 326,300 328.5,295 330.25,293 331.5,297 333,295.5 335.5,301.25 337.25,307.5 339.75,320.5 342.25,340.5 345.5,353 349.75,359.25 354.75,361 359.75,366 364.75,368.75 364.75,369" fill="#9b9b9b" stroke="none"/>
<polyline points="238.5,368.75 243.5,365.5 248.5,362.5 251.5,363.5 254.75,355.5 259.75,354.25 262.25,331.75 264,329.25 266,311 268.5,298.5 270.3,292 271.5,285 272.25,272.5 273.1,264.4 274.4,261.9 275.6,257.5 276.9,261.9 278.1,257.5 279,247.5 280,241.25 281.25,247.5 282.25,250.6 283.5,248.1 284.75,251.25 286,253.75 287.25,260 288.1,266.9 290,268.1 291,271.9 291.9,278.75 292.5,285 294,291 295.5,296 297.25,304 299,314.25 300.5,310.5 302.25,317.5 304.25,313 306,317.5 308,318 310.5,311.75 312.25,312.5 314.75,309.25 316,307.5 318.5,305 320.25,307.5 322.25,310 324,307 326,300 328.5,295 330.25,293 331.5,297 333,295.5 335.5,301.25 337.25,307.5 339.75,320.5 342.25,340.5 345.5,353 349.75,359.25 354.75,361 359.75,366 364.75,368.75" fill="none" stroke="#151515" stroke-width="1.4" stroke-linejoin="round"/>
<polygon points="237.4,270 238,270 239,369 237.4,369" fill="#222"/>
<path d="M237.1,216.9 H389.3 V369" fill="none" stroke="#666" stroke-width="1"/>
<path d="M237.1,216.9 V369" fill="none" stroke="#222" stroke-width="1.2"/>
<path d="M236.6,369 H389.7" fill="none" stroke="#222" stroke-width="1.1"/>
<line x1="232.5" y1="232.75" x2="237.1" y2="232.75" stroke="#111" stroke-width="1.1"/>
<text x="229.2" y="237.65" font-size="8.4" text-anchor="end" textLength="11.2" lengthAdjust="spacingAndGlyphs" stroke="#111" stroke-width="0.4">120</text>
<line x1="232.5" y1="266.7" x2="237.1" y2="266.7" stroke="#111" stroke-width="1.1"/>
<text x="229.2" y="271.6" font-size="8.4" text-anchor="end" textLength="7.5" lengthAdjust="spacingAndGlyphs" stroke="#111" stroke-width="0.4">90</text>
<line x1="232.5" y1="300.6" x2="237.1" y2="300.6" stroke="#111" stroke-width="1.1"/>
<text x="229.2" y="305.5" font-size="8.4" text-anchor="end" textLength="7.5" lengthAdjust="spacingAndGlyphs" stroke="#111" stroke-width="0.4">60</text>
<line x1="232.5" y1="334.6" x2="237.1" y2="334.6" stroke="#111" stroke-width="1.1"/>
<text x="229.2" y="339.5" font-size="8.4" text-anchor="end" textLength="7.5" lengthAdjust="spacingAndGlyphs" stroke="#111" stroke-width="0.4">30</text>
<line x1="232.5" y1="368.5" x2="237.1" y2="368.5" stroke="#111" stroke-width="1.1"/>
<text x="229.2" y="369" font-size="8.4" text-anchor="end" textLength="3.7" lengthAdjust="spacingAndGlyphs" stroke="#111" stroke-width="0.4">0</text>
<path d="M234.7,221.43 h2.4 M234.7,232.75 h2.4 M234.7,244.07 h2.4 M234.7,255.38 h2.4 M234.7,266.7 h2.4 M234.7,278.02 h2.4 M234.7,289.33 h2.4 M234.7,300.65 h2.4 M234.7,311.97 h2.4 M234.7,323.28 h2.4 M234.7,334.6 h2.4 M234.7,345.92 h2.4 M234.7,357.23 h2.4" stroke="#333" stroke-width="0.7" fill="none"/>
<path d="M237.5,369 v3.9 M258.4,369 v3.9 M279.3,369 v3.9 M300.2,369 v3.9 M321.1,369 v3.9 M342,369 v3.9 M362.9,369 v3.9 M383.8,369 v3.9" stroke="#111" stroke-width="1.1" fill="none"/>
<path d="M243.79,369 v2.4 M247.47,369 v2.4 M250.08,369 v2.4 M252.11,369 v2.4 M253.76,369 v2.4 M255.16,369 v2.4 M256.37,369 v2.4 M257.44,369 v2.4 M264.69,369 v2.4 M268.37,369 v2.4 M270.98,369 v2.4 M273.01,369 v2.4 M274.66,369 v2.4 M276.06,369 v2.4 M277.27,369 v2.4 M278.34,369 v2.4 M285.59,369 v2.4 M289.27,369 v2.4 M291.88,369 v2.4 M293.91,369 v2.4 M295.56,369 v2.4 M296.96,369 v2.4 M298.17,369 v2.4 M299.24,369 v2.4 M306.49,369 v2.4 M310.17,369 v2.4 M312.78,369 v2.4 M314.81,369 v2.4 M316.46,369 v2.4 M317.86,369 v2.4 M319.07,369 v2.4 M320.14,369 v2.4 M327.39,369 v2.4 M331.07,369 v2.4 M333.68,369 v2.4 M335.71,369 v2.4 M337.36,369 v2.4 M338.76,369 v2.4 M339.97,369 v2.4 M341.04,369 v2.4 M348.29,369 v2.4 M351.97,369 v2.4 M354.58,369 v2.4 M356.61,369 v2.4 M358.26,369 v2.4 M359.66,369 v2.4 M360.87,369 v2.4 M361.94,369 v2.4 M369.19,369 v2.4 M372.87,369 v2.4 M375.48,369 v2.4 M377.51,369 v2.4 M379.16,369 v2.4 M380.56,369 v2.4 M381.77,369 v2.4 M382.84,369 v2.4" stroke="#222" stroke-width="0.8" fill="none"/>
<text x="239.75" y="388.9" font-size="9" textLength="7.6" lengthAdjust="spacingAndGlyphs" stroke="#111" stroke-width="0.4">10</text>
<text x="246.95" y="383.4" font-size="8.6" textLength="4.3" lengthAdjust="spacingAndGlyphs" stroke="#111" stroke-width="0.4">0</text>
<text x="275.75" y="388.9" font-size="9" textLength="7.6" lengthAdjust="spacingAndGlyphs" stroke="#111" stroke-width="0.4">10</text>
<text x="282.95" y="383.4" font-size="8.6" textLength="4.3" lengthAdjust="spacingAndGlyphs" stroke="#111" stroke-width="0.4">2</text>
<text x="317.45" y="388.9" font-size="9" textLength="7.6" lengthAdjust="spacingAndGlyphs" stroke="#111" stroke-width="0.4">10</text>
<text x="324.65" y="383.4" font-size="8.6" textLength="4.3" lengthAdjust="spacingAndGlyphs" stroke="#111" stroke-width="0.4">4</text>
<text x="359.75" y="388.9" font-size="9" textLength="7.6" lengthAdjust="spacingAndGlyphs" stroke="#111" stroke-width="0.4">10</text>
<text x="366.95" y="383.4" font-size="8.6" textLength="4.3" lengthAdjust="spacingAndGlyphs" stroke="#111" stroke-width="0.4">6</text>
<text x="262.4" y="406.4" font-size="14.2" text-anchor="start" textLength="101.6" lengthAdjust="spacingAndGlyphs">M2+MW-CD206</text>
<path d="M237.1,285.75 H319.75 M319.75,283.05 V288.55 M319.75,291.3 V297.2 M319.75,294.1 H389.3 M388.9,291.5 v5.2" fill="none" stroke="#141414" stroke-width="1.25"/>
<path d="M319.75,288.55 V291.3" fill="none" stroke="#999" stroke-width="0.8"/>
<text x="240.4" y="232.8" font-size="10" text-anchor="start" textLength="38.4" lengthAdjust="spacingAndGlyphs">FITC-A-</text>
<text x="240.4" y="245.9" font-size="10" text-anchor="start" textLength="19" lengthAdjust="spacingAndGlyphs">74.3</text>
<text x="260" y="245.9" font-size="8.4" text-anchor="start" textLength="8" lengthAdjust="spacingAndGlyphs" stroke="#111" stroke-width="0.4">%</text>
<text x="324.4" y="233" font-size="10" text-anchor="start" textLength="41.3" lengthAdjust="spacingAndGlyphs">FITC-A+</text>
<text x="346.5" y="246.3" font-size="10" text-anchor="start" textLength="19.4" lengthAdjust="spacingAndGlyphs">25.7</text>
<text x="366.5" y="246.3" font-size="8.4" text-anchor="start" textLength="8" lengthAdjust="spacingAndGlyphs" stroke="#111" stroke-width="0.4">%</text>
<text transform="translate(215,310.6) rotate(-90)" font-size="14.5" textLength="36.2" lengthAdjust="spacingAndGlyphs" stroke-width="0.3">Count</text>
</g>
<g id="panel7">
<polygon points="435.75,368.5 435.75,368 439.5,363 442,361.75 443.25,363 448.25,359.25 452,348 455,345.5 457.5,330.5 460.3,313 461.6,304 462.4,298 463,280 463.6,271 464.6,268.7 465.7,274 467.2,259 468.5,256.6 469.6,256 471.2,257.5 472.5,261 474,277 475.6,286.2 477,280 478.5,270.5 480,266 481.1,263.6 482.9,269.5 484.2,265 485.2,262 486.2,268 487.5,280 489.5,289.5 491,296.5 492.5,295 494.2,291 495.6,298 497,307 499.5,312.6 502.6,311.4 505.1,318.25 507.6,316.4 510.1,311.4 512.25,316.4 514.9,312.25 517,317.6 519.5,318.5 522,320.1 524.5,317.6 526.75,314.75 528.9,320.1 531,310.1 532.6,320.75 534.5,334.5 537,340.75 540.1,347 542.6,353.25 544.5,357 547.6,357 550.1,353.9 553,350.75 555.1,354.5 557,358 558.75,362 562,366 567,368.5 567,368.5" fill="#9b9b9b" stroke="none"/>
<polyline points="435.75,368 439.5,363 442,361.75 443.25,363 448.25,359.25 452,348 455,345.5 457.5,330.5 460.3,313 461.6,304 462.4,298 463,280 463.6,271 464.6,268.7 465.7,274 467.2,259 468.5,256.6 469.6,256 471.2,257.5 472.5,261 474,277 475.6,286.2 477,280 478.5,270.5 480,266 481.1,263.6 482.9,269.5 484.2,265 485.2,262 486.2,268 487.5,280 489.5,289.5 491,296.5 492.5,295 494.2,291 495.6,298 497,307 499.5,312.6 502.6,311.4 505.1,318.25 507.6,316.4 510.1,311.4 512.25,316.4 514.9,312.25 517,317.6 519.5,318.5 522,320.1 524.5,317.6 526.75,314.75 528.9,320.1 531,310.1 532.6,320.75 534.5,334.5 537,340.75 540.1,347 542.6,353.25 544.5,357 547.6,357 550.1,353.9 553,350.75 555.1,354.5 557,358 558.75,362 562,366 567,368.5" fill="none" stroke="#151515" stroke-width="1.4" stroke-linejoin="round"/>
<polygon points="434.7,270 435.3,270 436.3,368.5 434.7,368.5" fill="#222"/>
<path d="M434.4,217.3 H586 V368.5" fill="none" stroke="#666" stroke-width="1"/>
<path d="M434.4,217.3 V368.5" fill="none" stroke="#222" stroke-width="1.2"/>
<path d="M433.9,368.5 H586.4" fill="none" stroke="#222" stroke-width="1.1"/>
<line x1="429.8" y1="234.1" x2="434.4" y2="234.1" stroke="#111" stroke-width="1.1"/>
<text x="426.5" y="239" font-size="8.4" text-anchor="end" textLength="11.2" lengthAdjust="spacingAndGlyphs" stroke="#111" stroke-width="0.4">100</text>
<line x1="429.8" y1="260.9" x2="434.4" y2="260.9" stroke="#111" stroke-width="1.1"/>
<text x="426.5" y="265.8" font-size="8.4" text-anchor="end" textLength="7.5" lengthAdjust="spacingAndGlyphs" stroke="#111" stroke-width="0.4">80</text>
<line x1="429.8" y1="287.7" x2="434.4" y2="287.7" stroke="#111" stroke-width="1.1"/>
<text x="426.5" y="292.6" font-size="8.4" text-anchor="end" textLength="7.5" lengthAdjust="spacingAndGlyphs" stroke="#111" stroke-width="0.4">60</text>
<line x1="429.8" y1="314.4" x2="434.4" y2="314.4" stroke="#111" stroke-width="1.1"/>
<text x="426.5" y="319.3" font-size="8.4" text-anchor="end" textLength="7.5" lengthAdjust="spacingAndGlyphs" stroke="#111" stroke-width="0.4">40</text>
<line x1="429.8" y1="341.2" x2="434.4" y2="341.2" stroke="#111" stroke-width="1.1"/>
<text x="426.5" y="346.1" font-size="8.4" text-anchor="end" textLength="7.5" lengthAdjust="spacingAndGlyphs" stroke="#111" stroke-width="0.4">20</text>
<line x1="429.8" y1="368" x2="434.4" y2="368" stroke="#111" stroke-width="1.1"/>
<text x="426.5" y="368.4" font-size="8.4" text-anchor="end" textLength="3.7" lengthAdjust="spacingAndGlyphs" stroke="#111" stroke-width="0.4">0</text>
<path d="M432,220.7 h2.4 M432,227.4 h2.4 M432,234.1 h2.4 M432,240.8 h2.4 M432,247.5 h2.4 M432,254.2 h2.4 M432,260.9 h2.4 M432,267.6 h2.4 M432,274.3 h2.4 M432,281 h2.4 M432,287.7 h2.4 M432,294.4 h2.4 M432,301.1 h2.4 M432,307.8 h2.4 M432,314.5 h2.4 M432,321.2 h2.4 M432,327.9 h2.4 M432,334.6 h2.4 M432,341.3 h2.4 M432,348 h2.4 M432,354.7 h2.4 M432,361.4 h2.4" stroke="#333" stroke-width="0.7" fill="none"/>
<path d="M434.5,368.5 v3.9 M455.4,368.5 v3.9 M476.3,368.5 v3.9 M497.2,368.5 v3.9 M518.1,368.5 v3.9 M539,368.5 v3.9 M559.9,368.5 v3.9 M580.8,368.5 v3.9" stroke="#111" stroke-width="1.1" fill="none"/>
<path d="M440.79,368.5 v2.4 M444.47,368.5 v2.4 M447.08,368.5 v2.4 M449.11,368.5 v2.4 M450.76,368.5 v2.4 M452.16,368.5 v2.4 M453.37,368.5 v2.4 M454.44,368.5 v2.4 M461.69,368.5 v2.4 M465.37,368.5 v2.4 M467.98,368.5 v2.4 M470.01,368.5 v2.4 M471.66,368.5 v2.4 M473.06,368.5 v2.4 M474.27,368.5 v2.4 M475.34,368.5 v2.4 M482.59,368.5 v2.4 M486.27,368.5 v2.4 M488.88,368.5 v2.4 M490.91,368.5 v2.4 M492.56,368.5 v2.4 M493.96,368.5 v2.4 M495.17,368.5 v2.4 M496.24,368.5 v2.4 M503.49,368.5 v2.4 M507.17,368.5 v2.4 M509.78,368.5 v2.4 M511.81,368.5 v2.4 M513.46,368.5 v2.4 M514.86,368.5 v2.4 M516.07,368.5 v2.4 M517.14,368.5 v2.4 M524.39,368.5 v2.4 M528.07,368.5 v2.4 M530.68,368.5 v2.4 M532.71,368.5 v2.4 M534.36,368.5 v2.4 M535.76,368.5 v2.4 M536.97,368.5 v2.4 M538.04,368.5 v2.4 M545.29,368.5 v2.4 M548.97,368.5 v2.4 M551.58,368.5 v2.4 M553.61,368.5 v2.4 M555.26,368.5 v2.4 M556.66,368.5 v2.4 M557.87,368.5 v2.4 M558.94,368.5 v2.4 M566.19,368.5 v2.4 M569.87,368.5 v2.4 M572.48,368.5 v2.4 M574.51,368.5 v2.4 M576.16,368.5 v2.4 M577.56,368.5 v2.4 M578.77,368.5 v2.4 M579.84,368.5 v2.4" stroke="#222" stroke-width="0.8" fill="none"/>
<text x="437" y="388.1" font-size="9" textLength="7.6" lengthAdjust="spacingAndGlyphs" stroke="#111" stroke-width="0.4">10</text>
<text x="444.2" y="382.6" font-size="8.6" textLength="4.3" lengthAdjust="spacingAndGlyphs" stroke="#111" stroke-width="0.4">0</text>
<text x="472.7" y="388.1" font-size="9" textLength="7.6" lengthAdjust="spacingAndGlyphs" stroke="#111" stroke-width="0.4">10</text>
<text x="479.9" y="382.6" font-size="8.6" textLength="4.3" lengthAdjust="spacingAndGlyphs" stroke="#111" stroke-width="0.4">2</text>
<text x="514.4" y="388.1" font-size="9" textLength="7.6" lengthAdjust="spacingAndGlyphs" stroke="#111" stroke-width="0.4">10</text>
<text x="521.6" y="382.6" font-size="8.6" textLength="4.3" lengthAdjust="spacingAndGlyphs" stroke="#111" stroke-width="0.4">4</text>
<text x="556.25" y="388.1" font-size="9" textLength="7.6" lengthAdjust="spacingAndGlyphs" stroke="#111" stroke-width="0.4">10</text>
<text x="563.45" y="382.6" font-size="8.6" textLength="4.3" lengthAdjust="spacingAndGlyphs" stroke="#111" stroke-width="0.4">6</text>
<text x="445.6" y="405.8" font-size="14.2" text-anchor="start" textLength="126.9" lengthAdjust="spacingAndGlyphs">CMMP+MW-CD206</text>
<path d="M434.4,331 H517 M517,328.3 V333.8 M517,335.45 V341.35 M517,338.25 H586 M585.6,335.65 v5.2" fill="none" stroke="#141414" stroke-width="1.25"/>
<path d="M517,333.8 V335.45" fill="none" stroke="#999" stroke-width="0.8"/>
<text x="437.6" y="233.05" font-size="10" text-anchor="start" textLength="38.4" lengthAdjust="spacingAndGlyphs">FITC-A-</text>
<text x="437.6" y="246.3" font-size="10" text-anchor="start" textLength="19" lengthAdjust="spacingAndGlyphs">79.1</text>
<text x="457.25" y="246.3" font-size="8.4" text-anchor="start" textLength="8" lengthAdjust="spacingAndGlyphs" stroke="#111" stroke-width="0.4">%</text>
<text x="520.75" y="233.4" font-size="10" text-anchor="start" textLength="41.3" lengthAdjust="spacingAndGlyphs">FITC-A+</text>
<text x="543.25" y="246.5" font-size="10" text-anchor="start" textLength="19.4" lengthAdjust="spacingAndGlyphs">20.9</text>
<text x="562.9" y="246.5" font-size="8.4" text-anchor="start" textLength="8" lengthAdjust="spacingAndGlyphs" stroke="#111" stroke-width="0.4">%</text>
<text transform="translate(412.3,311) rotate(-90)" font-size="14.5" textLength="36.2" lengthAdjust="spacingAndGlyphs" stroke-width="0.3">Count</text>
</g>
<g id="panel8">
<polygon points="631,370.2 631,369.25 635.5,364.25 639.25,359.25 643,359.25 646,353 649.25,339.25 651,340.5 652.5,329.25 653.5,310 655,298.75 656.25,301.25 658,282.5 659.75,271.25 661,275 662.5,266.25 663.75,270 665.75,255 667.5,267.5 669.25,277.5 671.25,275 673,277.5 675.5,270 677.5,270 679.25,277.5 681.75,287.5 684.25,300 686,307.5 689.25,313 691.75,319.25 694.25,315.5 697.25,314.25 699.25,319.25 701.75,325 704.25,321.75 706,328 709.25,328.5 711.75,333 715.5,335.5 719.25,341.75 724.25,348 727.5,346.75 730.5,355.5 734.25,361.75 740.5,365.5 748,367 755.5,369.25 755.5,370.2" fill="#9b9b9b" stroke="none"/>
<polyline points="631,369.25 635.5,364.25 639.25,359.25 643,359.25 646,353 649.25,339.25 651,340.5 652.5,329.25 653.5,310 655,298.75 656.25,301.25 658,282.5 659.75,271.25 661,275 662.5,266.25 663.75,270 665.75,255 667.5,267.5 669.25,277.5 671.25,275 673,277.5 675.5,270 677.5,270 679.25,277.5 681.75,287.5 684.25,300 686,307.5 689.25,313 691.75,319.25 694.25,315.5 697.25,314.25 699.25,319.25 701.75,325 704.25,321.75 706,328 709.25,328.5 711.75,333 715.5,335.5 719.25,341.75 724.25,348 727.5,346.75 730.5,355.5 734.25,361.75 740.5,365.5 748,367 755.5,369.25" fill="none" stroke="#151515" stroke-width="1.4" stroke-linejoin="round"/>
<polygon points="629.9,270 630.5,270 631.5,370.2 629.9,370.2" fill="#222"/>
<path d="M629.6,218 H781 V370.2" fill="none" stroke="#666" stroke-width="1"/>
<path d="M629.6,218 V370.2" fill="none" stroke="#222" stroke-width="1.2"/>
<path d="M629.1,370.2 H781.4" fill="none" stroke="#222" stroke-width="1.1"/>
<line x1="625" y1="222.75" x2="629.6" y2="222.75" stroke="#111" stroke-width="1.1"/>
<text x="621.7" y="227.65" font-size="8.4" text-anchor="end" textLength="11.2" lengthAdjust="spacingAndGlyphs" stroke="#111" stroke-width="0.4">150</text>
<line x1="625" y1="271.75" x2="629.6" y2="271.75" stroke="#111" stroke-width="1.1"/>
<text x="621.7" y="276.65" font-size="8.4" text-anchor="end" textLength="11.2" lengthAdjust="spacingAndGlyphs" stroke="#111" stroke-width="0.4">100</text>
<line x1="625" y1="320.75" x2="629.6" y2="320.75" stroke="#111" stroke-width="1.1"/>
<text x="621.7" y="325.65" font-size="8.4" text-anchor="end" textLength="7.5" lengthAdjust="spacingAndGlyphs" stroke="#111" stroke-width="0.4">50</text>
<line x1="625" y1="369.75" x2="629.6" y2="369.75" stroke="#111" stroke-width="1.1"/>
<text x="621.7" y="369.9" font-size="8.4" text-anchor="end" textLength="3.7" lengthAdjust="spacingAndGlyphs" stroke="#111" stroke-width="0.4">0</text>
<path d="M627.2,222.75 h2.4 M627.2,232.55 h2.4 M627.2,242.35 h2.4 M627.2,252.15 h2.4 M627.2,261.95 h2.4 M627.2,271.75 h2.4 M627.2,281.55 h2.4 M627.2,291.35 h2.4 M627.2,301.15 h2.4 M627.2,310.95 h2.4 M627.2,320.75 h2.4 M627.2,330.55 h2.4 M627.2,340.35 h2.4 M627.2,350.15 h2.4 M627.2,359.95 h2.4" stroke="#333" stroke-width="0.7" fill="none"/>
<path d="M630,370.2 v3.9 M650.9,370.2 v3.9 M671.8,370.2 v3.9 M692.7,370.2 v3.9 M713.6,370.2 v3.9 M734.5,370.2 v3.9 M755.4,370.2 v3.9 M776.3,370.2 v3.9" stroke="#111" stroke-width="1.1" fill="none"/>
<path d="M636.29,370.2 v2.4 M639.97,370.2 v2.4 M642.58,370.2 v2.4 M644.61,370.2 v2.4 M646.26,370.2 v2.4 M647.66,370.2 v2.4 M648.87,370.2 v2.4 M649.94,370.2 v2.4 M657.19,370.2 v2.4 M660.87,370.2 v2.4 M663.48,370.2 v2.4 M665.51,370.2 v2.4 M667.16,370.2 v2.4 M668.56,370.2 v2.4 M669.77,370.2 v2.4 M670.84,370.2 v2.4 M678.09,370.2 v2.4 M681.77,370.2 v2.4 M684.38,370.2 v2.4 M686.41,370.2 v2.4 M688.06,370.2 v2.4 M689.46,370.2 v2.4 M690.67,370.2 v2.4 M691.74,370.2 v2.4 M698.99,370.2 v2.4 M702.67,370.2 v2.4 M705.28,370.2 v2.4 M707.31,370.2 v2.4 M708.96,370.2 v2.4 M710.36,370.2 v2.4 M711.57,370.2 v2.4 M712.64,370.2 v2.4 M719.89,370.2 v2.4 M723.57,370.2 v2.4 M726.18,370.2 v2.4 M728.21,370.2 v2.4 M729.86,370.2 v2.4 M731.26,370.2 v2.4 M732.47,370.2 v2.4 M733.54,370.2 v2.4 M740.79,370.2 v2.4 M744.47,370.2 v2.4 M747.08,370.2 v2.4 M749.11,370.2 v2.4 M750.76,370.2 v2.4 M752.16,370.2 v2.4 M753.37,370.2 v2.4 M754.44,370.2 v2.4 M761.69,370.2 v2.4 M765.37,370.2 v2.4 M767.98,370.2 v2.4 M770.01,370.2 v2.4 M771.66,370.2 v2.4 M773.06,370.2 v2.4 M774.27,370.2 v2.4 M775.34,370.2 v2.4" stroke="#222" stroke-width="0.8" fill="none"/>
<text x="632" y="389.6" font-size="9" textLength="7.6" lengthAdjust="spacingAndGlyphs" stroke="#111" stroke-width="0.4">10</text>
<text x="639.2" y="384.1" font-size="8.6" textLength="4.3" lengthAdjust="spacingAndGlyphs" stroke="#111" stroke-width="0.4">0</text>
<text x="667.55" y="389.6" font-size="9" textLength="7.6" lengthAdjust="spacingAndGlyphs" stroke="#111" stroke-width="0.4">10</text>
<text x="674.75" y="384.1" font-size="8.6" textLength="4.3" lengthAdjust="spacingAndGlyphs" stroke="#111" stroke-width="0.4">2</text>
<text x="709" y="389.6" font-size="9" textLength="7.6" lengthAdjust="spacingAndGlyphs" stroke="#111" stroke-width="0.4">10</text>
<text x="716.2" y="384.1" font-size="8.6" textLength="4.3" lengthAdjust="spacingAndGlyphs" stroke="#111" stroke-width="0.4">4</text>
<text x="751.25" y="389.6" font-size="9" textLength="7.6" lengthAdjust="spacingAndGlyphs" stroke="#111" stroke-width="0.4">10</text>
<text x="758.45" y="384.1" font-size="8.6" textLength="4.3" lengthAdjust="spacingAndGlyphs" stroke="#111" stroke-width="0.4">6</text>
<text x="671.9" y="407" font-size="14.2" text-anchor="start" textLength="65.85" lengthAdjust="spacingAndGlyphs">M1-CD206</text>
<path d="M629.6,300 H711.4 M711.4,297.3 V302.8 M711.4,304.45 V310.35 M711.4,307.25 H781 M780.6,304.65 v5.2" fill="none" stroke="#141414" stroke-width="1.25"/>
<path d="M711.4,302.8 V304.45" fill="none" stroke="#999" stroke-width="0.8"/>
<text x="632.6" y="234.3" font-size="10" text-anchor="start" textLength="38.4" lengthAdjust="spacingAndGlyphs">FITC-A-</text>
<text x="632" y="247.55" font-size="10" text-anchor="start" textLength="19" lengthAdjust="spacingAndGlyphs">87.2</text>
<text x="650.75" y="247.55" font-size="8.4" text-anchor="start" textLength="8" lengthAdjust="spacingAndGlyphs" stroke="#111" stroke-width="0.4">%</text>
<text x="716" y="234.7" font-size="10" text-anchor="start" textLength="41.3" lengthAdjust="spacingAndGlyphs">FITC-A+</text>
<text x="738.5" y="247.8" font-size="10" text-anchor="start" textLength="19.4" lengthAdjust="spacingAndGlyphs">12.8</text>
<text x="759.1" y="247.8" font-size="8.4" text-anchor="start" textLength="8" lengthAdjust="spacingAndGlyphs" stroke="#111" stroke-width="0.4">%</text>
<text transform="translate(607.5,311.7) rotate(-90)" font-size="14.5" textLength="36.2" lengthAdjust="spacingAndGlyphs" stroke-width="0.3">Count</text>
</g>
<text class="lab" transform="translate(0.2,17.5) scale(0.84,1)" font-size="27">a</text>
<text class="lab" transform="translate(-0.6,225.7) scale(0.97,1)" font-size="26">b</text>
</svg>
</body></html>
